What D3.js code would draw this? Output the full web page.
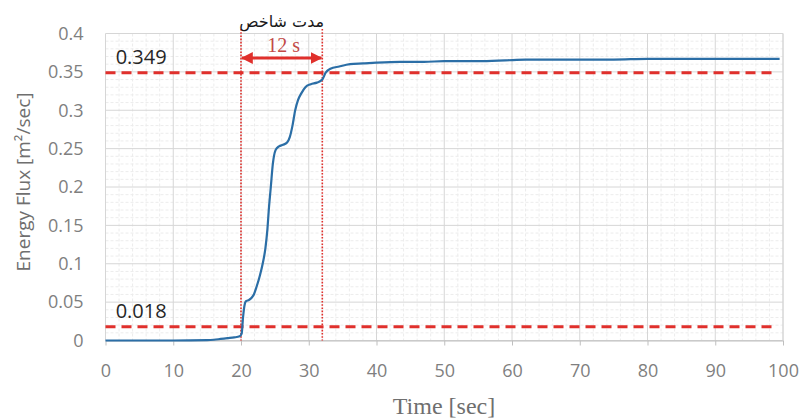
<!DOCTYPE html>
<html>
<head>
<meta charset="utf-8">
<script src="https://cdn.jsdelivr.net/npm/d3@7"></script>
<style>
  html, body { margin: 0; padding: 0; background: #fff; }
  svg { display: block; }
</style>
</head>
<body>
<svg id="chart" width="800" height="419"></svg>
<script>
// Energy flux time series (sec, m²/sec)
const timeSec = [0, 5, 10, 15, 16, 17, 18, 19, 19.8, 20.1, 20.3, 20.5, 20.7, 21.2, 21.6, 21.9,
  22.3, 22.8, 23.2, 23.6, 23.9, 24.1, 24.4, 24.7, 25.1, 25.6, 26.2, 26.8, 27.2, 27.6, 28.0,
  28.4, 28.9, 29.5, 30.3, 31.2, 32.0, 32.5, 33.2, 34.5, 36.1, 38, 40, 43.5, 47, 50, 55, 59,
  62, 66, 70, 75, 80, 85, 90, 95, 99.5];
const energyFlux = [0, 0, 0, 0.0005, 0.001, 0.002, 0.003, 0.004, 0.0055, 0.009, 0.03, 0.045,
  0.051, 0.053, 0.056, 0.06, 0.07, 0.085, 0.1, 0.12, 0.145, 0.17, 0.2, 0.23, 0.248, 0.253,
  0.255, 0.258, 0.265, 0.28, 0.3, 0.313, 0.322, 0.33, 0.334, 0.336, 0.34, 0.349, 0.354,
  0.357, 0.36, 0.361, 0.362, 0.363, 0.363, 0.364, 0.364, 0.365, 0.366, 0.366, 0.366, 0.366,
  0.367, 0.367, 0.367, 0.367, 0.367];

const xTicks = [0, 10, 20, 30, 40, 50, 60, 70, 80, 90, 100];
const yTicks = [0, 0.05, 0.1, 0.15, 0.2, 0.25, 0.3, 0.35, 0.4];
const yTickLabels = ["0", "0.05", "0.1", "0.15", "0.2", "0.25", "0.3", "0.35", "0.4"];

// Threshold levels and the duration window between them
const thresholds = [0.349, 0.018];
const thresholdLabels = ["0.349", "0.018"];
const windowStart = 20;
const windowEnd = 32;
const windowLabel = "12 s";
const windowTitle = "مدت شاخص";

const svg = d3.select("#chart");
const plot = { left: 105.5, right: 783, top: 33.5, bottom: 340.5 };

const x = d3.scaleLinear().domain([0, 100]).range([plot.left, plot.right]);
const y = d3.scaleLinear().domain([0, 0.4]).range([plot.bottom, plot.top]);

const red = "#e0302c";
const sans = "'Open Sans', sans-serif";
const serif = "'Liberation Serif', 'Times New Roman', serif";

// minor grid
const g = svg.append("g");
g.selectAll("line.mx").data(d3.range(0, 101, 2).filter(v => v % 10 !== 0)).join("line")
  .attr("x1", d => x(d)).attr("x2", d => x(d))
  .attr("y1", plot.top).attr("y2", plot.bottom)
  .attr("stroke", "#ececec").attr("stroke-width", 1).attr("stroke-dasharray", "3,2");
g.selectAll("line.my").data(d3.range(0, 0.4001, 0.01).filter((v, i) => i % 5 !== 0)).join("line")
  .attr("x1", plot.left).attr("x2", plot.right)
  .attr("y1", d => y(d)).attr("y2", d => y(d))
  .attr("stroke", "#ececec").attr("stroke-width", 1).attr("stroke-dasharray", "3,2");

// major grid
g.selectAll("line.gx").data(xTicks).join("line")
  .attr("x1", d => x(d)).attr("x2", d => x(d))
  .attr("y1", plot.top).attr("y2", plot.bottom)
  .attr("stroke", "#d6d6d6").attr("stroke-width", 1);
g.selectAll("line.gy").data(yTicks).join("line")
  .attr("x1", plot.left).attr("x2", plot.right)
  .attr("y1", d => y(d)).attr("y2", d => y(d))
  .attr("stroke", "#d6d6d6").attr("stroke-width", 1);

// x axis
const xAxis = svg.append("g")
  .attr("transform", `translate(0,${plot.bottom})`)
  .call(d3.axisBottom(x).tickValues(xTicks).tickSize(5).tickPadding(19).tickSizeOuter(0));
xAxis.select(".domain").attr("stroke", "#bfbfbf");
xAxis.selectAll(".tick line").attr("stroke", "#bfbfbf");
xAxis.selectAll("text").attr("font-family", sans)
  .attr("font-size", 18).attr("fill", "#7f7f7f");

// y axis
const yAxis = svg.append("g")
  .attr("transform", `translate(${plot.left},0)`)
  .call(d3.axisLeft(y).tickValues(yTicks).tickFormat((d, i) => yTickLabels[i])
    .tickSize(0).tickPadding(22));
yAxis.select(".domain").remove();
yAxis.selectAll("text").attr("font-family", sans)
  .attr("font-size", 18).attr("fill", "#7f7f7f");

// axis titles
svg.append("text")
  .attr("transform", `translate(30,${182}) rotate(-90)`)
  .attr("text-anchor", "middle")
  .attr("font-family", sans).attr("font-size", 19).attr("fill", "#6f6f6f")
  .text("Energy Flux [m²/sec]");
svg.append("text")
  .attr("x", 444).attr("y", 414)
  .attr("text-anchor", "middle")
  .attr("font-family", serif).attr("font-size", 24)
  .attr("fill", "#6f6f6f")
  .text("Time [sec]");

// threshold lines
svg.selectAll("line.thr").data(thresholds).join("line")
  .attr("x1", x(0)).attr("x2", x(99))
  .attr("y1", d => y(d)).attr("y2", d => y(d))
  .attr("stroke", red).attr("stroke-width", 3).attr("stroke-dasharray", "10,6");
svg.selectAll("text.thr").data(thresholds).join("text")
  .attr("x", x(1.5)).attr("y", d => y(d) - 9)
  .attr("font-family", sans).attr("font-size", 20).attr("fill", "#262626")
  .text((d, i) => thresholdLabels[i]);

// duration window boundaries
svg.selectAll("line.win").data([windowStart, windowEnd]).join("line")
  .attr("x1", d => x(d)).attr("x2", d => x(d))
  .attr("y1", 29).attr("y2", plot.bottom)
  .attr("stroke", red).attr("stroke-width", 1.6).attr("stroke-dasharray", "1.6,1.6");

// series line
const line = d3.line().x((d, i) => x(timeSec[i])).y(d => y(d)).curve(d3.curveMonotoneX);
svg.append("path").datum(energyFlux)
  .attr("d", line)
  .attr("fill", "none").attr("stroke", "#2b6ea6").attr("stroke-width", 2.2);

// double-headed arrow between the window boundaries
const defs = svg.append("defs");
["start", "end"].forEach(k => {
  defs.append("marker").attr("id", "arr-" + k)
    .attr("viewBox", "0 0 10 10").attr("refX", 9).attr("refY", 5)
    .attr("markerWidth", 4).attr("markerHeight", 4)
    .attr("orient", k === "start" ? "auto-start-reverse" : "auto")
    .append("path").attr("d", "M0,0 L10,5 L0,10 z").attr("fill", red);
});
const arrowY = 58;
svg.append("line")
  .attr("x1", x(windowStart) + 1).attr("x2", x(windowEnd) - 1)
  .attr("y1", arrowY).attr("y2", arrowY)
  .attr("stroke", red).attr("stroke-width", 3)
  .attr("marker-start", "url(#arr-start)").attr("marker-end", "url(#arr-end)");

svg.append("text")
  .attr("x", (x(windowStart) + x(windowEnd)) / 2 + 2).attr("y", 52)
  .attr("text-anchor", "middle")
  .attr("font-family", serif).attr("font-size", 20)
  .attr("fill", "#c24a47")
  .text(windowLabel);

svg.append("text")
  .attr("x", (x(windowStart) + x(windowEnd)) / 2).attr("y", 27)
  .attr("text-anchor", "middle").attr("direction", "rtl")
  .attr("font-family", "'DejaVu Sans', 'Noto Sans', sans-serif").attr("font-size", 16)
  .attr("fill", "#1a1a1a")
  .text(windowTitle);

// plot frame right edge
svg.append("line")
  .attr("x1", plot.right).attr("x2", plot.right).attr("y1", plot.top).attr("y2", plot.bottom)
  .attr("stroke", "#d6d6d6");
</script>
</body>
</html>
